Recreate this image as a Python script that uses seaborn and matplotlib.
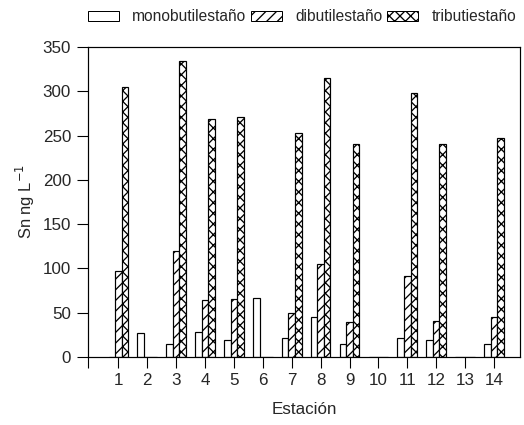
import numpy as np
import pandas as pd
import matplotlib
matplotlib.use("Agg")
import matplotlib.pyplot as plt
from matplotlib.patches import Patch
import seaborn as sns

# ---- data ----
estaciones = ["1", "2", "3", "4", "5", "6", "7", "8", "9", "10", "11", "12", "13", "14"]
series = ["monobutilestaño", "dibutilestaño", "tributiestaño"]
mono = [0, 27, 15, 28, 19, 67, 22, 45, 15, 0, 22, 19, 0, 15]
di = [97, 0, 120, 64, 66, 0, 50, 105, 39, 0, 91, 41, 0, 45]
tri = [305, 0, 334, 269, 271, 0, 253, 315, 240, 0, 298, 241, 0, 247]
yticks = [0, 50, 100, 150, 200, 250, 300, 350]

DPI = 64
P = 72.0 / DPI  # px -> pt

sns.set_style("white")
plt.rcParams["font.family"] = ["Liberation Sans", "DejaVu Sans"]
plt.rcParams["hatch.linewidth"] = 1.3 * P
plt.rcParams["hatch.color"] = "black"

df = pd.DataFrame({
    "Estación": estaciones * 3,
    "valor": mono + di + tri,
    "compuesto": [series[0]] * 14 + [series[1]] * 14 + [series[2]] * 14,
})

fig = plt.figure(figsize=(524 / DPI, 425 / DPI), dpi=DPI)
ax = fig.add_axes([88 / 524, 1 - 357 / 425, (520 - 88) / 524, (357 - 47) / 425])

sns.barplot(data=df, x="Estación", y="valor", hue="compuesto", order=estaciones,
            hue_order=series, palette=["white"] * 3, edgecolor="black",
            linewidth=1.2 * P, width=0.68, dodge=True, ax=ax, legend=False,
            saturation=1, errorbar=None)

hatches = ["", "//", "xx"]
for cont, h in zip(ax.containers, hatches):
    for bar in cont:
        bar.set_hatch(h)
        bar.set_facecolor("white")
        bar.set_edgecolor("black")

ax.set_xlim(-1.05, 13.9)
ax.set_ylim(0, 350)
ax.set_yticks(yticks)
ax.set_xticks(range(len(estaciones)))
ax.set_xticklabels(estaciones)
ax.set_xticks([-1.05], minor=True)

for s in ax.spines.values():
    s.set_visible(True)
    s.set_color("black")
    s.set_linewidth(1.2 * P)

ax.tick_params(axis="both", which="both", direction="out", length=11 * P,
               width=1.1 * P, color="black", labelsize=17 * P, pad=6 * P,
               bottom=True, left=True)
ax.tick_params(axis="x", pad=5 * P)

ax.set_xlabel("Estación", fontsize=17 * P, labelpad=14 * P)
ax.set_ylabel("Sn ng L$^{-1}$", fontsize=16.5 * P, labelpad=6 * P)

handles = [Patch(facecolor="white", edgecolor="black", hatch=h, linewidth=1.0 * P)
           for h in hatches]
ax.legend(handles, series, ncol=3, loc="center left",
          bbox_to_anchor=(0.0, 1.097), frameon=False, fontsize=15.5 * P,
          handlelength=2.0, handleheight=0.7, handletextpad=0.85,
          columnspacing=0.3, borderaxespad=0, borderpad=0)

fig.savefig("out.png", dpi=DPI, facecolor="white")
